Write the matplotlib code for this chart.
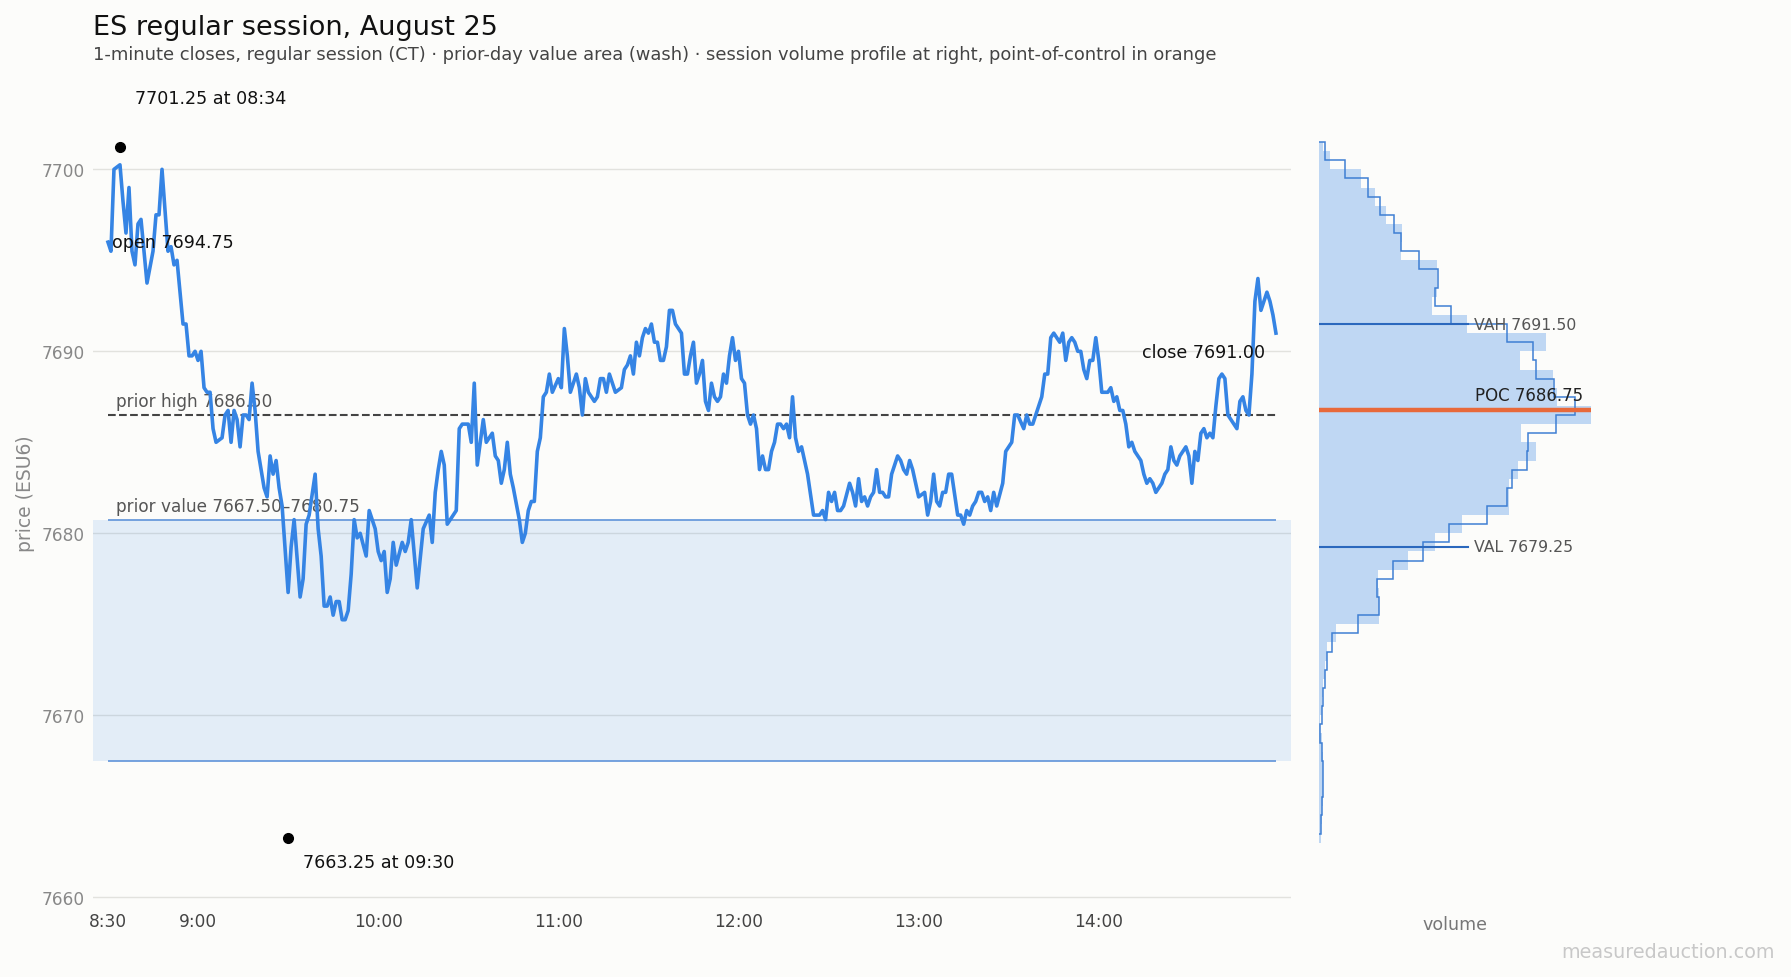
import numpy as np
import matplotlib
matplotlib.use("Agg")
import matplotlib.pyplot as plt

# 1-minute closes, minutes after 08:30 CT
minute = [0, 1, 2, 4, 5, 6, 7, 8, 9, 10, 11, 13, 15, 16, 17, 18, 20, 21, 22, 23,
          25, 26, 27, 28, 29, 30, 31, 32, 33, 34, 35, 36, 38, 39, 40, 41, 42, 43, 44, 45,
          46, 47, 48, 49, 50, 52, 53, 54, 55, 56, 57, 58, 60, 61, 62, 64, 65, 66, 67, 69,
          70, 71, 72, 73, 74, 75, 76, 77, 78, 79, 80, 81, 82, 83, 84, 86, 87, 89, 90, 91,
          92, 93, 94, 95, 96, 98, 99, 100, 101, 103, 105, 107, 108, 109, 110, 111, 112, 113, 116, 117,
          118, 120, 121, 122, 123, 125, 126, 128, 129, 130, 131, 132, 133, 134, 135, 137, 138, 139, 140, 141,
          142, 143, 144, 145, 146, 147, 148, 150, 151, 152, 153, 154, 156, 157, 158, 159, 160, 162, 163, 164,
          165, 166, 167, 169, 171, 172, 173, 174, 175, 176, 177, 178, 179, 180, 181, 182, 183, 184, 185, 186,
          187, 188, 189, 190, 191, 192, 193, 194, 195, 196, 197, 198, 199, 200, 201, 202, 203, 204, 205, 206,
          207, 208, 209, 210, 211, 212, 213, 214, 215, 216, 217, 218, 219, 220, 221, 222, 223, 224, 225, 226,
          227, 228, 229, 230, 231, 233, 235, 237, 238, 239, 240, 241, 242, 243, 244, 245, 247, 248, 249, 250,
          251, 252, 253, 254, 255, 256, 257, 258, 259, 260, 261, 263, 264, 265, 266, 267, 268, 270, 272, 273,
          274, 275, 276, 277, 278, 279, 280, 281, 283, 284, 285, 286, 287, 288, 289, 290, 291, 292, 293, 294,
          295, 296, 298, 299, 301, 302, 303, 305, 306, 307, 308, 309, 310, 311, 312, 313, 314, 315, 316, 317,
          318, 319, 320, 321, 322, 323, 324, 325, 326, 327, 328, 329, 330, 331, 332, 333, 334, 335, 336, 337,
          338, 339, 340, 341, 342, 343, 344, 345, 346, 347, 348, 349, 350, 351, 352, 353, 354, 355, 356, 357,
          359, 360, 361, 362, 363, 364, 365, 366, 367, 368, 369, 370, 371, 372, 373, 374, 376, 377, 378, 379,
          380, 381, 382, 383, 384, 385, 386, 387, 388, 389]
close = [7696.0, 7695.5, 7700.0, 7700.25, 7698.25, 7696.5, 7699.0, 7695.5, 7694.75, 7697.0,
         7697.25, 7693.75, 7695.5, 7697.5, 7697.5, 7700.0, 7695.5, 7695.75, 7694.75, 7695.0,
         7691.5, 7691.5, 7689.75, 7689.75, 7690.0, 7689.5, 7690.0, 7688.0, 7687.75, 7687.75,
         7685.75, 7685.0, 7685.25, 7686.5, 7686.75, 7685.0, 7686.75, 7686.25, 7684.75, 7686.5,
         7686.5, 7686.25, 7688.25, 7686.75, 7684.5, 7682.5, 7682.0, 7684.25, 7683.25, 7684.0,
         7682.5, 7681.5, 7676.75, 7679.25, 7680.75, 7676.5, 7677.5, 7680.5, 7681.0, 7683.25,
         7680.25, 7678.75, 7676.0, 7676.0, 7676.5, 7675.5, 7676.25, 7676.25, 7675.25, 7675.25,
         7675.75, 7677.75, 7680.75, 7679.75, 7680.0, 7678.75, 7681.25, 7680.25, 7679.0, 7678.5,
         7679.0, 7676.75, 7677.5, 7679.5, 7678.25, 7679.5, 7679.0, 7679.5, 7680.75, 7677.0,
         7680.25, 7681.0, 7679.5, 7682.25, 7683.5, 7684.5, 7683.75, 7680.5, 7681.25, 7685.75,
         7686.0, 7686.0, 7685.0, 7688.25, 7683.75, 7686.25, 7685.0, 7685.5, 7684.25, 7684.0,
         7682.75, 7683.5, 7685.0, 7683.25, 7682.5, 7680.75, 7679.5, 7680.0, 7681.25, 7681.75,
         7681.75, 7684.5, 7685.25, 7687.5, 7687.75, 7688.75, 7687.75, 7688.5, 7688.0, 7691.25,
         7689.75, 7687.75, 7688.75, 7688.0, 7686.5, 7688.5, 7687.75, 7687.25, 7687.5, 7688.5,
         7688.5, 7687.75, 7688.75, 7687.75, 7688.0, 7689.0, 7689.25, 7689.75, 7688.75, 7690.5,
         7689.75, 7690.75, 7691.25, 7691.0, 7691.5, 7690.5, 7690.5, 7689.5, 7689.5, 7690.25,
         7692.25, 7692.25, 7691.5, 7691.25, 7691.0, 7688.75, 7688.75, 7689.75, 7690.5, 7688.25,
         7688.75, 7689.5, 7687.25, 7686.75, 7688.25, 7687.5, 7687.25, 7687.5, 7688.75, 7688.25,
         7689.75, 7690.75, 7689.5, 7690.0, 7688.5, 7688.25, 7686.5, 7686.0, 7686.5, 7685.75,
         7683.5, 7684.25, 7683.5, 7683.5, 7684.5, 7685.0, 7686.0, 7686.0, 7685.75, 7686.0,
         7685.25, 7687.5, 7685.25, 7684.5, 7684.75, 7683.25, 7681.0, 7681.0, 7681.25, 7680.75,
         7682.25, 7681.75, 7682.25, 7681.25, 7681.25, 7681.5, 7682.75, 7682.25, 7681.5, 7683.0,
         7681.75, 7682.0, 7681.5, 7682.0, 7682.25, 7683.5, 7682.25, 7682.25, 7682.0, 7682.0,
         7683.25, 7684.25, 7684.0, 7683.5, 7683.25, 7684.0, 7683.5, 7682.0, 7682.25, 7681.0,
         7681.75, 7683.25, 7681.75, 7681.5, 7682.25, 7682.25, 7683.25, 7683.25, 7681.0, 7681.0,
         7680.5, 7681.25, 7681.0, 7681.5, 7681.75, 7682.25, 7682.25, 7681.75, 7682.0, 7681.25,
         7682.25, 7681.5, 7682.75, 7684.5, 7685.0, 7686.5, 7686.5, 7685.75, 7686.5, 7686.0,
         7686.0, 7686.5, 7687.0, 7687.5, 7688.75, 7688.75, 7690.75, 7691.0, 7690.75, 7690.5,
         7691.0, 7689.5, 7690.5, 7690.75, 7690.5, 7690.0, 7690.0, 7689.0, 7688.5, 7689.5,
         7689.5, 7690.75, 7689.5, 7687.75, 7687.75, 7687.75, 7688.0, 7687.25, 7687.5, 7686.75,
         7686.75, 7686.0, 7684.75, 7685.0, 7684.5, 7684.25, 7684.0, 7683.25, 7682.75, 7683.0,
         7682.75, 7682.25, 7682.5, 7682.75, 7683.25, 7683.5, 7684.75, 7684.0, 7683.75, 7684.25,
         7684.75, 7684.25, 7682.75, 7684.5, 7684.0, 7685.5, 7685.75, 7685.25, 7685.5, 7685.25,
         7687.0, 7688.5, 7688.75, 7688.5, 7686.5, 7686.25, 7685.75, 7687.25, 7687.5, 7686.75,
         7686.5, 7688.75, 7692.75, 7694.0, 7692.25, 7692.75, 7693.25, 7692.75, 7692.0, 7691.0]

session_open = 7694.75
session_high, high_minute, high_label = 7701.25, 4, "08:34"
session_low, low_minute, low_label = 7663.25, 60, "09:30"
session_close = 7691.00

prior_high = 7686.50
prior_val, prior_vah = 7667.50, 7680.75

# session volume profile, bin edges (1 point, top bin cut at the high), thousands of contracts
profile_edges = [7663, 7664, 7665, 7666, 7667, 7668, 7669, 7670, 7671, 7672,
                 7673, 7674, 7675, 7676, 7677, 7678, 7679, 7680, 7681, 7682,
                 7683, 7684, 7685, 7686, 7687, 7688, 7689, 7690, 7691, 7692,
                 7693, 7694, 7695, 7696, 7697, 7698, 7699, 7700, 7701, 7701.5]
profile_vol = [0.4, 0.7, 1.0, 1.2, 1.0, 0.7, 0.2, 0.9, 1.2, 1.7,
               2.2, 5.0, 18.0, 18.0, 17.5, 26.5, 34.7, 42.7, 56.8, 56.8,
               59.5, 65.0, 60.4, 81.4, 71.2, 70.0, 60.2, 68.0, 44.2, 33.9,
               35.2, 35.2, 24.4, 24.7, 20.0, 16.7, 12.5, 3.2, 1.2]
# outline profile on half-point offset bins (centers 7664..7701)
outline_price = list(range(7664, 7702))
outline_vol = [0.4, 0.9, 1.2, 1.2, 0.7, 0.2, 0.7, 1.2, 1.7, 2.2,
               3.7, 11.7, 18.0, 17.4, 22.0, 31.0, 39.0, 50.2, 56.2, 57.7,
               62.4, 62.7, 71.0, 76.7, 70.5, 65.0, 64.2, 56.4, 39.4, 34.7,
               35.7, 30.0, 24.5, 22.5, 18.2, 14.7, 7.7, 1.7]
vah, val, poc = 7691.50, 7679.25, 7686.75

tick_minutes = [0, 30, 90, 150, 210, 270, 330]
tick_labels = ['8:30', '9:00', '10:00', '11:00', '12:00', '13:00', '14:00']
price_ticks = [7660, 7670, 7680, 7690, 7700]

BG = '#fcfcfa'
BLUE = '#3584e4'
plt.rcParams['font.family'] = ['DejaVu Sans']

fig = plt.figure(figsize=(17.91, 9.78), dpi=100, facecolor=BG)
ax = fig.add_axes([0.0519, 0.0713, 0.6689, 0.8485], facecolor=BG)
axp = fig.add_axes([0.7366, 0.0713, 0.1515, 0.8485], facecolor=BG, sharey=ax)

rng = session_high - session_low
ylim = (session_low - 0.1 * rng, session_high + 0.1 * rng)

# main price panel
ax.axhspan(prior_val, prior_vah, color=BLUE, alpha=0.12, lw=0, zorder=1)
ax.hlines([prior_val, prior_vah], minute[0], minute[-1], color='#6a9bdc', lw=1.3, zorder=2)
ax.hlines(prior_high, minute[0], minute[-1], color='#444444', lw=1.5, ls='--', zorder=2)
ax.plot(minute, close, color=BLUE, lw=2.6, zorder=4, solid_joinstyle='round')

ax.plot([high_minute], [session_high], 'o', color='black', ms=7, zorder=5)
ax.plot([low_minute], [session_low], 'o', color='black', ms=7, zorder=5)
ax.annotate(f"{session_high:.2f} at {high_label}", (high_minute, session_high),
            xytext=(11, 35), textcoords='offset points', ha='left', va='center',
            fontsize=12.6, color='#111111', annotation_clip=False)
ax.annotate(f"{session_low:.2f} at {low_label}", (low_minute, session_low),
            xytext=(11, -17), textcoords='offset points', ha='left', va='center',
            fontsize=12.6, color='#111111')
ax.annotate(f"open {session_open:.2f}", (minute[0], close[0]),
            xytext=(3, 0), textcoords='offset points', ha='left', va='center',
            fontsize=12.6, color='#111111', zorder=6)
ax.annotate(f"close {session_close:.2f}", (minute[-1], close[-1]),
            xytext=(-8, -13.5), textcoords='offset points', ha='right', va='center',
            fontsize=12.6, color='#111111', zorder=6)
ax.annotate(f"prior high {prior_high:.2f}", (minute[0], prior_high),
            xytext=(6, 10), textcoords='offset points', ha='left', va='center',
            fontsize=12.2, color='#555555')
ax.annotate(f"prior value {prior_val:.2f}\u2013{prior_vah:.2f}", (minute[0], prior_vah),
            xytext=(6, 10), textcoords='offset points', ha='left', va='center',
            fontsize=12.2, color='#555555')

ax.set_xlim(-5, 394)
ax.set_ylim(*ylim)
ax.set_xticks(tick_minutes)
ax.set_xticklabels(tick_labels)
ax.set_yticks(price_ticks)
ax.tick_params(axis='x', length=0, pad=3.6, labelsize=12.25, labelcolor='#444444')
ax.tick_params(axis='y', length=0, pad=5.8, labelsize=12.25, labelcolor='#888888')
ax.yaxis.grid(True, color='#e2e2de', lw=1.0)
ax.set_axisbelow(True)
for s in ax.spines.values():
    s.set_visible(False)
ax.set_ylabel('price (ESU6)', fontsize=13.5, color='#888888', labelpad=4.5)

# volume profile panel
axp.barh(profile_edges[:-1], profile_vol, height=np.diff(profile_edges), align='edge',
         color=BLUE, alpha=0.3, lw=0, zorder=1)
edges = np.array(outline_price, dtype=float) - 0.5
edges = np.append(edges, outline_price[-1] + 0.5)
axp.stairs(outline_vol, edges, orientation='horizontal', baseline=0,
           color='#3f7fd3', lw=1.1, zorder=2)
vmax = max(profile_vol)
axp.plot([0, 0.55 * vmax], [vah, vah], color='#2b68bd', lw=1.5, zorder=3)
axp.plot([0, 0.55 * vmax], [val, val], color='#2b68bd', lw=1.5, zorder=3)
axp.plot([0, vmax], [poc, poc], color='#e8693a', lw=3.2, zorder=4)
axp.text(0.57 * vmax, vah, f"VAH {vah:.2f}", ha='left', va='center', fontsize=11.3, color='#555555')
axp.text(0.57 * vmax, val, f"VAL {val:.2f}", ha='left', va='center', fontsize=11.3, color='#555555')
axp.text(0.575 * vmax, poc + 0.35, f"POC {poc:.2f}", ha='left', va='bottom', fontsize=12, color='#222222')
axp.set_xlim(0, vmax)
axp.set_ylim(*ylim)
axp.set_xticks([])
axp.tick_params(axis='y', left=False, labelleft=False)
for s in axp.spines.values():
    s.set_visible(False)
axp.set_xlabel('volume', fontsize=12.6, color='#777777', labelpad=5.5)

fig.text(0.0519, 0.9642, 'ES regular session, August 25', fontsize=19.5, color='#111111',
         ha='left', va='baseline')
fig.text(0.0519, 0.9387,
         '1-minute closes, regular session (CT) \u00b7 prior-day value area (wash) \u00b7 '
         'session volume profile at right, point-of-control in orange',
         fontsize=12.9, color='#444444', ha='left', va='baseline')
fig.text(0.991, 0.026, 'measuredauction.com', fontsize=13.8, color='#c8c8c8',
         ha='right', va='center')

fig.savefig('out.png', dpi=100, facecolor=BG)
